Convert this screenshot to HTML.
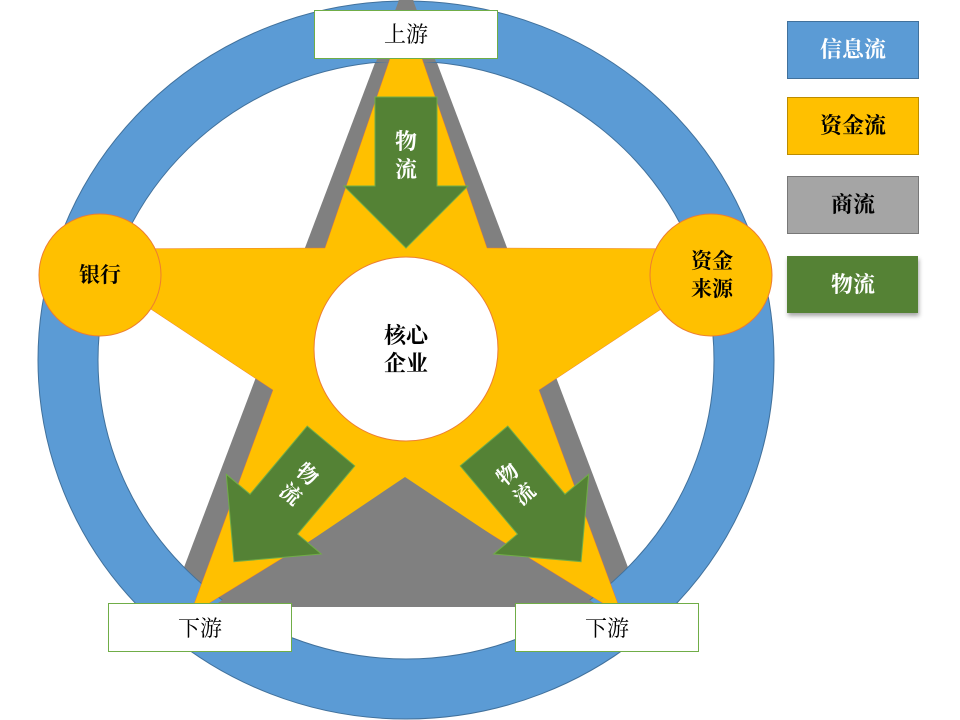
<!DOCTYPE html>
<html><head><meta charset="utf-8"><style>
html,body{margin:0;padding:0;background:#fff;}
svg{display:block;}
text{font-family:"Liberation Serif","Noto Serif CJK SC","Noto Sans CJK SC",serif;}
</style></head><body>
<svg width="960" height="720" viewBox="0 0 960 720" xmlns="http://www.w3.org/2000/svg">
<defs>
<filter id="sh" x="-10%" y="-10%" width="130%" height="140%"><feDropShadow dx="1" dy="3" stdDeviation="2" flood-color="#000" flood-opacity="0.35"/></filter>
</defs>
<polygon points="406,-19 169,607 643,607" fill="#808080"/>
<ellipse cx="406" cy="360" rx="338" ry="329" fill="none" stroke="#5B9BD5" stroke-width="60"/>
<ellipse cx="406" cy="360" rx="368" ry="359" fill="none" stroke="#41719C" stroke-width="1"/>
<ellipse cx="406" cy="360" rx="308" ry="299" fill="none" stroke="#41719C" stroke-width="1"/>
<polygon points="406,-19 376,62 436,62" fill="#808080"/>
<polygon points="406,12 487,248 752,249 539,390 622,615 406,482 190,615 273,390 60,249 325,248" fill="#FFC000" stroke="#ED7D31" stroke-width="0.5"/>
<polygon points="405,477 212,607 600,607" fill="#808080"/>
<circle cx="406" cy="349" r="92" fill="#fff" stroke="#ED7D31" stroke-width="1"/>
<text x="406" y="343" font-size="22" font-weight="bold" text-anchor="middle">核心</text>
<text x="406" y="371" font-size="22" font-weight="bold" text-anchor="middle">企业</text>
<circle cx="100" cy="275" r="61" fill="#FFC000" stroke="#ED7D31" stroke-width="1"/>
<text x="100" y="282" font-size="21" font-weight="bold" text-anchor="middle">银行</text>
<circle cx="711" cy="275" r="61" fill="#FFC000" stroke="#ED7D31" stroke-width="1"/>
<text x="712" y="268" font-size="21" font-weight="bold" text-anchor="middle">资金</text>
<text x="712" y="296" font-size="21" font-weight="bold" text-anchor="middle">来源</text>
<g transform="translate(406,97)">
<polygon points="-31,0 31,0 31,89 62,89 0,151 -62,89 -31,89" fill="#548235" stroke="#70AD47" stroke-width="1"/>
<text x="0" y="52" font-size="22" font-weight="bold" fill="#fff" text-anchor="middle">物</text>
<text x="0" y="80" font-size="22" font-weight="bold" fill="#fff" text-anchor="middle">流</text>
</g>
<g transform="translate(331,446) rotate(40)">
<polygon points="-31,0 31,0 31,89 62,89 0,151 -62,89 -31,89" fill="#548235" stroke="#70AD47" stroke-width="1"/>
<text x="0" y="44" font-size="21" font-weight="bold" fill="#fff" text-anchor="middle">物</text>
<text x="0" y="70" font-size="21" font-weight="bold" fill="#fff" text-anchor="middle">流</text>
</g>
<g transform="translate(484,446) rotate(-40)">
<polygon points="-31,0 31,0 31,89 62,89 0,151 -62,89 -31,89" fill="#548235" stroke="#70AD47" stroke-width="1"/>
<text x="0" y="44" font-size="21" font-weight="bold" fill="#fff" text-anchor="middle">物</text>
<text x="0" y="70" font-size="21" font-weight="bold" fill="#fff" text-anchor="middle">流</text>
</g>
<rect x="314.5" y="10.5" width="183" height="48" fill="#fff" stroke="#70AD47" stroke-width="1"/>
<text x="406" y="42" font-size="22" text-anchor="middle">上游</text>
<rect x="108.5" y="603.5" width="183" height="48" fill="#fff" stroke="#70AD47" stroke-width="1"/>
<text x="200" y="636" font-size="22" text-anchor="middle">下游</text>
<rect x="515.5" y="603.5" width="183" height="48" fill="#fff" stroke="#70AD47" stroke-width="1"/>
<text x="607" y="636" font-size="22" text-anchor="middle">下游</text>
<rect x="787.5" y="21.5" width="131" height="57" fill="#5B9BD5" stroke="#41719C"/>
<text x="853" y="57" font-size="22" font-weight="bold" fill="#fff" text-anchor="middle">信息流</text>
<rect x="787.5" y="97.5" width="131" height="57" fill="#FFC000" stroke="#BC8C00"/>
<text x="853" y="133" font-size="22" font-weight="bold" fill="#000" text-anchor="middle">资金流</text>
<rect x="787.5" y="176.5" width="131" height="57" fill="#A5A5A5" stroke="#787878"/>
<text x="853" y="212" font-size="22" font-weight="bold" fill="#000" text-anchor="middle">商流</text>
<rect x="787" y="256" width="131" height="57" fill="#548235" filter="url(#sh)"/>
<text x="853" y="292" font-size="22" font-weight="bold" fill="#fff" text-anchor="middle">物流</text>
</svg>
</body></html>
